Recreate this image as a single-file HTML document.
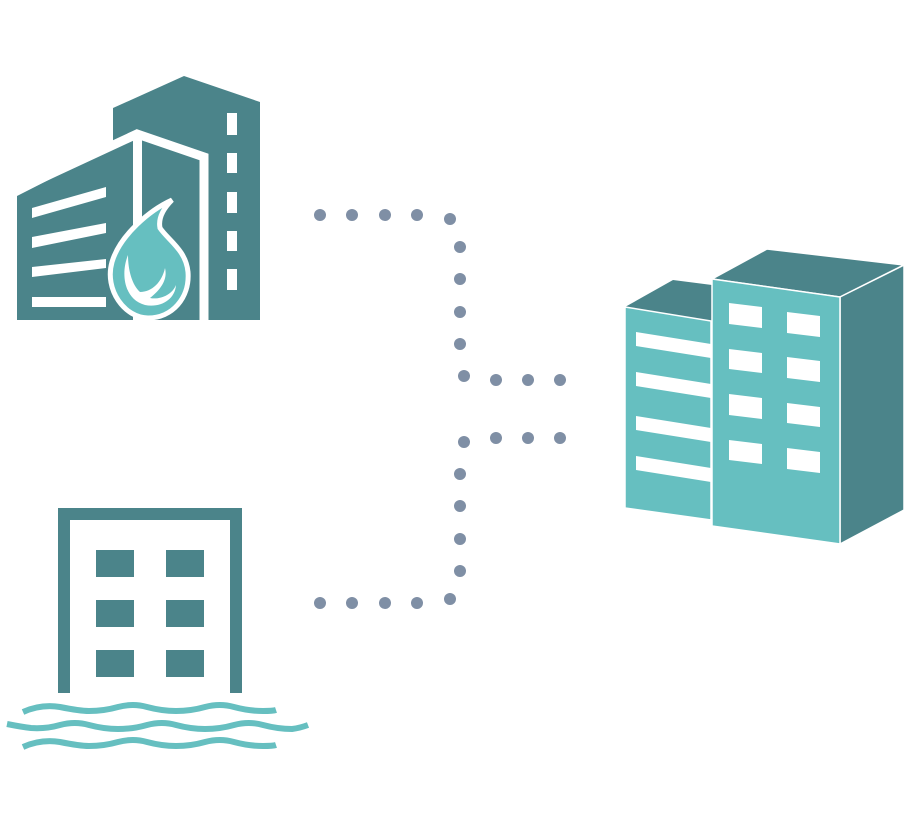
<!DOCTYPE html>
<html><head><style>html,body{margin:0;padding:0;background:#fff;}svg{display:block}</style></head>
<body>
<svg width="904" height="821" viewBox="0 0 904 821" xmlns="http://www.w3.org/2000/svg">
<!-- fire building -->
<polygon points="113,108 184,76 260,102 260,320 113,320" fill="#4b848a"/>
<g fill="#fff">
<rect x="227" y="113" width="10" height="22"/><rect x="227" y="153" width="10" height="20"/>
<rect x="227" y="192" width="10" height="21"/><rect x="227" y="231" width="10" height="20"/>
<rect x="227" y="269" width="10" height="21"/>
</g>
<polygon points="17,196 137,135 204,158 204,320 17,320" fill="#4b848a"/>
<polyline points="12,192 137,134 204,157 204,320" fill="none" stroke="#fff" stroke-width="9"/>
<polygon points="17,196 17,320 0,320 0,200" fill="#fff"/>
<rect x="133" y="135" width="9" height="186" fill="#fff"/>
<g fill="#fff">
<polygon points="32,208 106,187 106,197 32,218"/>
<polygon points="32,237 106,223 106,233 32,248"/>
<polygon points="32,267 106,259 106,268 32,277"/>
<rect x="32" y="297" width="74" height="10"/>
</g>
<path d="M172,200 C150,210 120,235 112,262 C104,290 125,318 148,318 C172,318 190,298 188,272 C186,250 168,240 160,228 C158,218 164,208 172,200 Z" fill="#66bfc0" stroke="#fff" stroke-width="5"/>
<path d="M128,255 C120,275 125,300 145,305 C160,308 175,300 176,285 C172,295 160,300 150,298 C160,290 168,280 165,268 C162,282 152,292 140,292 C132,285 128,270 128,255 Z" fill="#fff"/>
<!-- dots -->
<g fill="#7f8fa5">
<circle cx="320" cy="215" r="6"/><circle cx="352" cy="215" r="6"/><circle cx="385" cy="215" r="6"/><circle cx="417" cy="215" r="6"/><circle cx="450" cy="219" r="6"/>
<circle cx="460" cy="247" r="6"/><circle cx="460" cy="279" r="6"/><circle cx="460" cy="312" r="6"/><circle cx="460" cy="344" r="6"/><circle cx="464" cy="376" r="6"/>
<circle cx="496" cy="380" r="6"/><circle cx="528" cy="380" r="6"/><circle cx="560" cy="380" r="6"/>
<circle cx="464" cy="442" r="6"/><circle cx="496" cy="438" r="6"/><circle cx="528" cy="438" r="6"/><circle cx="560" cy="438" r="6"/>
<circle cx="460" cy="474" r="6"/><circle cx="460" cy="506" r="6"/><circle cx="460" cy="539" r="6"/><circle cx="460" cy="571" r="6"/><circle cx="450" cy="599" r="6"/>
<circle cx="417" cy="603" r="6"/><circle cx="385" cy="603" r="6"/><circle cx="352" cy="603" r="6"/><circle cx="320" cy="603" r="6"/>
</g>
<!-- flood building -->
<path d="M58,693 V508 H242 V693 H230 V520 H70 V693 Z" fill="#4b848a"/>
<g fill="#4b848a">
<rect x="96" y="550" width="38" height="27"/><rect x="166" y="550" width="38" height="27"/>
<rect x="96" y="600" width="38" height="27"/><rect x="166" y="600" width="38" height="27"/>
<rect x="96" y="650" width="38" height="27"/><rect x="166" y="650" width="38" height="27"/>
</g>
<g fill="none" stroke="#66bfc0" stroke-width="6">
<path d="M23,712 q18,-8 37,-5 q20,4 29,4 q15,0 29,-4 q15,-4 29,0 q15,4 29,4 q15,0 29,-4 q15,-4 29,0 q15,4 29,4 q10,0 13,-1"/>
<path d="M7,724 q15,3 24,4 q15,1 29,-3 q15,-4 29,0 q15,4 29,4 q15,0 29,-4 q15,-4 29,0 q15,4 29,4 q15,0 29,-4 q15,-4 29,0 q15,4 29,4 q8,-1 16,-4"/>
<path d="M23,747 q18,-8 37,-5 q20,4 29,4 q15,0 29,-4 q15,-4 29,0 q15,4 29,4 q15,0 29,-4 q15,-4 29,0 q15,4 29,4 q10,0 13,-1"/>
</g>
<!-- right buildings -->
<polygon points="625,307 673,280 712,285 712,321" fill="#4b848a"/>
<polygon points="625,307 711,321 711,520 625,508" fill="#66bfc0" stroke="#fff" stroke-width="1.5"/>
<g fill="#fff">
<polygon points="636,332 711,344 711,358 636,346"/>
<polygon points="636,372 711,384 711,398 636,386"/>
<polygon points="636,416 711,428 711,442 636,430"/>
<polygon points="636,456 711,468 711,482 636,470"/>
</g>
<polygon points="712,279 767,249 904,265 840,297" fill="#4b848a" stroke="#fff" stroke-width="1.5"/>
<polygon points="840,297 904,265 904,510 840,544" fill="#4b848a" stroke="#fff" stroke-width="1.5"/>
<polygon points="712,279 840,297 840,544 712,526" fill="#66bfc0" stroke="#fff" stroke-width="1.5"/>
<g fill="#fff">
<polygon points="729,303 762,307 762,328 729,324"/><polygon points="787,312 820,316 820,337 787,333"/>
<polygon points="729,349 762,353 762,373 729,369"/><polygon points="787,357 820,361 820,382 787,378"/>
<polygon points="729,394 762,398 762,419 729,415"/><polygon points="787,403 820,407 820,427 787,423"/>
<polygon points="729,440 762,444 762,464 729,460"/><polygon points="787,448 820,452 820,473 787,469"/>
</g>
</svg>
</body></html>
